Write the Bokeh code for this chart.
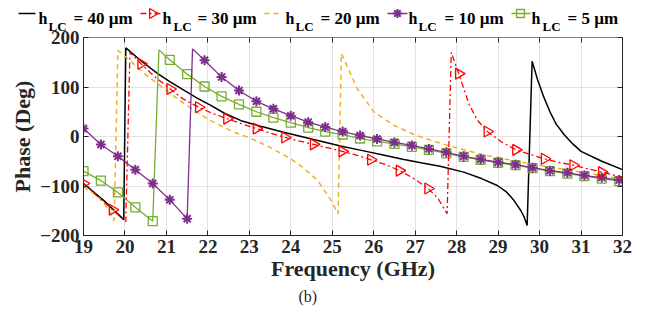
import math
from bokeh.plotting import figure
from bokeh.models import Range1d, LinearAxis, FixedTicker, Title
from bokeh.layouts import column
from bokeh.embed import file_html
from bokeh.resources import INLINE
from bokeh.core.properties import value

FONT = "Liberation Serif"

# ---------------- data ----------------
x_ticks = [19, 20, 21, 22, 23, 24, 25, 26, 27, 28, 29, 30, 31, 32]
y_ticks = [-200, -100, 0, 100, 200]

legend_names = ["= 40 µm", "= 30 µm", "= 20 µm", "= 10 µm", "= 5 µm"]

# h_LC = 40 um (black, solid)
bk_f = [19.0, 19.5, 19.97, 20.02, 20.4, 20.79, 21.1, 21.43, 21.75, 22.07, 22.4, 22.8,
        23.3, 23.8, 24.3, 24.8, 25.2, 25.7, 26.2, 26.7, 27.2, 27.6, 28.17, 28.6, 28.98,
        29.2, 29.38, 29.55, 29.63, 29.7, 29.82, 29.95, 30.1, 30.25, 30.4, 30.6, 30.8,
        31.0, 31.5, 32.0]
bk_p = [-95, -130, -168, 179, 152, 127, 110, 93, 77, 63, 47, 32,
        20, 9, -1, -11, -19, -28, -37, -46, -54, -60, -72, -85, -99,
        -112, -129, -150, -163, -180, 152, 115, 80, 50, 25, 3, -15,
        -30, -50, -67]

# h_LC = 30 um (red, dash-dot, right triangles)
rd_f = [19.0, 19.35, 19.7, 20.02, 20.12, 20.39, 20.7, 21.09, 21.4, 21.78, 22.1, 22.46,
        22.8, 23.17, 23.5, 23.86, 24.2, 24.55, 24.9, 25.24, 25.6, 25.93, 26.3, 26.62,
        26.95, 27.31, 27.55, 27.77, 27.87, 28.05, 28.3, 28.5, 28.74, 29.1, 29.43, 29.8,
        30.12, 30.45, 30.81, 31.15, 31.5, 32.0]
rd_p = [-95, -122, -148, -172, 170, 147, 122, 96, 76, 59, 47, 36,
        26, 16, 7, -2, -9, -16, -23, -30, -38, -47, -57, -69,
        -84, -105, -125, -156, 170, 127, 65, 33, 10, -12, -27, -37,
        -45, -52, -58, -65, -72, -82]
rd_mf = [19.0, 19.7, 20.39, 21.09, 21.78, 22.46, 23.17, 23.86, 24.55, 25.24, 25.93,
         26.62, 27.31, 28.05, 28.74, 29.43, 30.12, 30.81, 31.5]
rd_mp = [-95, -148, 147, 96, 59, 36, 16, -2, -16, -30, -47,
         -69, -105, 127, 10, -27, -45, -58, -72]

# h_LC = 20 um (yellow, dashed)
ye_f = [19.0, 19.3, 19.5, 19.66, 19.74, 19.83, 20.1, 20.47, 21.0, 21.43, 22.0, 22.6,
        23.04, 23.5, 24.0, 24.3, 24.65, 24.96, 25.14, 25.22, 25.6, 26.0, 26.5, 27.0,
        27.5, 28.0, 28.6, 29.3, 30.0, 30.5, 31.0, 31.5, 32.0]
ye_p = [-102, -118, -135, -155, -170, 174, 155, 127, 93, 66, 35, 10,
        -4, -22, -45, -63, -89, -128, -156, 168, 97, 50, 22, 3,
        -11, -23, -36, -48, -58, -65, -72, -79, -86]

# h_LC = 10 um (purple, solid, asterisks)
pu_f = [19.0, 19.42, 19.83, 20.25, 20.67, 21.08, 21.5, 21.63, 21.92, 22.33, 22.75, 23.17,
        23.58, 24.0, 24.42, 24.83, 25.25, 25.67, 26.08, 26.5, 26.92, 27.33, 27.75, 28.17,
        28.58, 29.0, 29.42, 29.83, 30.25, 30.67, 31.08, 31.5, 31.92, 32.0]
pu_p = [16, -16, -40, -67, -95, -128, -166, 177, 154, 120, 93, 71,
        56, 42, 29, 19, 10, 2, -5, -12, -18, -25, -32, -40,
        -46, -52, -57, -63, -69, -73, -79, -83, -88, -89]
pu_mf = [19.0, 19.42, 19.83, 20.25, 20.67, 21.08, 21.5, 21.92, 22.33, 22.75, 23.17,
         23.58, 24.0, 24.42, 24.83, 25.25, 25.67, 26.08, 26.5, 26.92, 27.33, 27.75, 28.17,
         28.58, 29.0, 29.42, 29.83, 30.25, 30.67, 31.08, 31.5, 31.92]
pu_mp = [16, -16, -40, -67, -95, -128, -166, 154, 120, 93, 71,
         56, 42, 29, 19, 10, 2, -5, -12, -18, -25, -32, -40,
         -46, -52, -57, -63, -69, -73, -79, -83, -88]

# h_LC = 5 um (green, solid, squares)
gr_f = [19.0, 19.42, 19.83, 20.25, 20.67, 20.82, 21.08, 21.5, 21.92, 22.33, 22.75, 23.17,
        23.58, 24.0, 24.42, 24.83, 25.25, 25.67, 26.08, 26.5, 26.92, 27.33, 27.75, 28.17,
        28.58, 29.0, 29.42, 29.83, 30.25, 30.67, 31.08, 31.5, 31.92, 32.0]
gr_p = [-70, -89, -113, -143, -171, 175, 155, 126, 101, 81, 65, 50,
        38, 28, 18, 10, 4, -4, -10, -15, -21, -27, -34, -41,
        -47, -53, -58, -64, -70, -75, -80, -85, -90, -91]
gr_mf = [19.0, 19.42, 19.83, 20.25, 20.67, 21.08, 21.5, 21.92, 22.33, 22.75, 23.17,
         23.58, 24.0, 24.42, 24.83, 25.25, 25.67, 26.08, 26.5, 26.92, 27.33, 27.75, 28.17,
         28.58, 29.0, 29.42, 29.83, 30.25, 30.67, 31.08, 31.5, 31.92]
gr_mp = [-70, -89, -113, -143, -171, 155, 126, 101, 81, 65, 50,
         38, 28, 18, 10, 4, -4, -10, -15, -21, -27, -34, -41,
         -47, -53, -58, -64, -70, -75, -80, -85, -90]

BLACK = "#000000"
RED = "#FF0000"
YELLOW = "#EDB120"
PURPLE = "#7E2F8E"
GREEN = "#77AC30"

LEG_H = 34      # legend strip height
OVERLAP = 10    # main plot starts this many px above the legend strip bottom
MAIN_TOP = LEG_H - OVERLAP

# ---------------- main plot ----------------
p = figure(width=649, height=324 - MAIN_TOP, x_range=Range1d(19, 32), y_range=Range1d(-200, 200),
           output_backend="svg", toolbar_location=None,
           min_border_left=83, min_border_right=27, min_border_top=37 - MAIN_TOP,
           min_border_bottom=89, frame_align=False, margin=(-OVERLAP, 0, 0, 0),
           outline_line_color=None, background_fill_color="white", border_fill_color=None)

p.xaxis.ticker = FixedTicker(ticks=x_ticks)
p.yaxis.ticker = FixedTicker(ticks=y_ticks)
for ax in (p.xaxis[0], p.yaxis[0]):
    ax.major_tick_in = 5
    ax.major_tick_out = 0
    ax.minor_tick_line_color = None
    ax.axis_line_color = "#262626"
    ax.major_tick_line_color = "#262626"
    ax.major_label_text_font = FONT
    ax.major_label_text_font_style = "bold"
    ax.major_label_text_font_size = "19px"
    ax.major_label_text_color = "#262626"
    ax.axis_label_text_font = FONT
    ax.axis_label_text_font_style = "bold"
    ax.axis_label_text_color = "#262626"

p.xaxis.axis_label = "Frequency (GHz)"
p.xaxis.axis_label_text_font_size = "22px"
p.xaxis.major_label_standoff = 4
p.xaxis.axis_label_standoff = 0
p.yaxis.axis_label = "Phase (Deg)"
p.yaxis.axis_label_text_font_size = "22px"
p.yaxis.major_label_standoff = 4
p.yaxis.axis_label_standoff = 2

top_ax = LinearAxis(ticker=FixedTicker(ticks=x_ticks), major_tick_in=5, major_tick_out=0,
                    minor_tick_line_color=None, axis_line_color="#808080",
                    major_tick_line_color="#262626",
                    major_label_overrides={t: "" for t in x_ticks})
p.add_layout(top_ax, "above")
right_ax = LinearAxis(ticker=FixedTicker(ticks=y_ticks), major_tick_in=5, major_tick_out=0,
                      minor_tick_line_color=None, axis_line_color="#262626",
                      major_tick_line_color="#262626",
                      major_label_overrides={t: "" for t in y_ticks})
p.add_layout(right_ax, "right")

p.xgrid.grid_line_color = "#e2e2e2"
p.ygrid.grid_line_color = "#e2e2e2"

# series
p.line(bk_f, bk_p, line_color=BLACK, line_width=1.5)
p.line(ye_f, ye_p, line_color=YELLOW, line_width=1.5, line_dash="5 4")
p.line(gr_f, gr_p, line_color=GREEN, line_width=1.3)
p.scatter(gr_mf, gr_mp, marker="square", size=9, line_color=GREEN, fill_color=None, line_width=1.3)
p.line(pu_f, pu_p, line_color=PURPLE, line_width=1.3)
p.scatter(pu_mf, pu_mp, marker="asterisk", size=10, line_color=PURPLE, line_width=2)
p.line(rd_f, rd_p, line_color=RED, line_width=1.3, line_dash="6 3 2 3")
p.scatter(rd_mf, rd_mp, marker="triangle", angle=-math.pi / 2, size=11, line_color=RED,
          fill_color=None, line_width=1.3)

p.add_layout(Title(text="(b)", align="left", offset=215, text_font=FONT, text_font_size="16px",
                   text_font_style="normal", text_color="#262626", standoff=4), "below")

# ---------------- legend strip ----------------
lg = figure(width=649, height=LEG_H, x_range=Range1d(0, 649), y_range=Range1d(LEG_H, 0),
            x_axis_type=None, y_axis_type=None, output_backend="svg", toolbar_location=None,
            min_border=0, outline_line_color=None, frame_align=False,
            background_fill_color=None, border_fill_color=None)
lg.grid.visible = False

ly = 13
lg.line([18, 35], [ly, ly], line_color=BLACK, line_width=1.5)
lg.line([140, 160], [ly, ly], line_color=RED, line_width=1.3, line_dash="6 3 2 3")
lg.scatter([152], [ly], marker="triangle", angle=-math.pi / 2, size=10, line_color=RED,
           fill_color=None, line_width=1.3)
lg.line([264, 280], [ly, ly], line_color=YELLOW, line_width=1.5, line_dash="5 4")
lg.line([387, 407], [ly, ly], line_color=PURPLE, line_width=1.3)
lg.scatter([397], [ly], marker="asterisk", size=9, line_color=PURPLE, line_width=2)
lg.line([511, 530], [ly, ly], line_color=GREEN, line_width=1.3)
lg.scatter([520], [ly], marker="square", size=8, line_color=GREEN, fill_color=None, line_width=1.3)

hx = [38, 162, 285, 408, 531]
lcx = [48, 173, 295, 418, 542]
nx = [73, 197, 320, 444, 567]
lg.text(x=hx, y=[18] * 5, text=["h"] * 5, text_font=value(FONT), text_font_style="bold",
        text_font_size="16px", text_baseline="alphabetic", text_color=BLACK)
lg.text(x=lcx, y=[26] * 5, text=["LC"] * 5, text_font=value(FONT), text_font_style="bold",
        text_font_size="13px", text_baseline="alphabetic", text_color=BLACK)
lg.text(x=nx, y=[18] * 5, text=legend_names, text_font=value(FONT), text_font_style="bold",
        text_font_size="17px", text_baseline="alphabetic", text_color=BLACK)

layout = column(lg, p, spacing=0)
open("out.html", "w").write(file_html(layout, INLINE))
